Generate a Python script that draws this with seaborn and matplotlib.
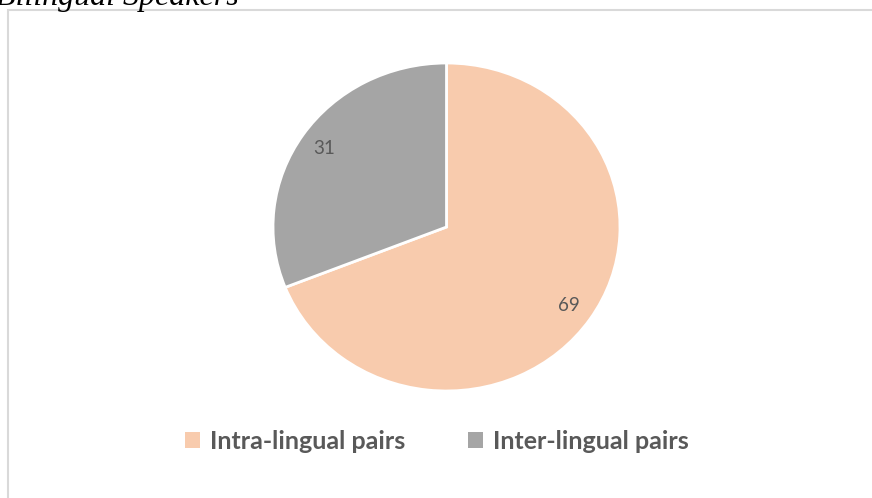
import matplotlib
matplotlib.use("Agg")
import matplotlib.pyplot as plt
import seaborn as sns
from matplotlib.patches import Rectangle, Patch

categories = ["Intra-lingual pairs", "Inter-lingual pairs"]
values = [69, 31]
colors = ["#F8CBAD", "#A5A5A5"]
title = "Bilingual Speakers"

sns.set_theme(style="white")
plt.rcParams["font.family"] = ["Lato", "DejaVu Sans"]

W, H = 872, 498
fig = plt.figure(figsize=(W / 100, H / 100), dpi=100)
fig.patch.set_facecolor("white")

# chart border (extends past the image at right/bottom)
fig.add_artist(Rectangle((8 / W, -0.1), 1.2, (H - 10) / H + 0.1,
                         transform=fig.transFigure, fill=False,
                         edgecolor="#D9D9D9", linewidth=1.5))

# cropped caption above the chart
fig.text(-4 / W, 1 - 5 / H, title, family=["Liberation Serif"], style="italic",
         fontsize=23, color="black", ha="left", va="baseline")

# pie axes
cx, cy = 446.5, 227
rx, ry = 173.5, 164
ax = fig.add_axes([(cx - rx) / W, 1 - (cy + ry) / H, 2 * rx / W, 2 * ry / H])
wedges, texts, autotexts = ax.pie(
    values, colors=colors, startangle=90, counterclock=False,
    autopct=lambda p: f"{round(p)}", pctdistance=0.85,
    wedgeprops=dict(edgecolor="white", linewidth=2),
    textprops=dict(color="#595959", fontsize=13.5))
ax.set_aspect("auto")
ax.set_xlim(-1, 1)
ax.set_ylim(-1, 1)
ax.axis("off")

handles = [Patch(facecolor=c, edgecolor="none") for c in colors]
leg = fig.legend(handles, categories, loc="center", bbox_to_anchor=(437 / W, 1 - 441 / H),
                 ncol=2, frameon=False, handlelength=0.6, handleheight=0.6,
                 handletextpad=0.4, columnspacing=2.5,
                 prop=dict(family=["Lato"], weight="bold", size=18))
for t in leg.get_texts():
    t.set_color("#595959")

fig.savefig("out.png", dpi=100, facecolor="white")
